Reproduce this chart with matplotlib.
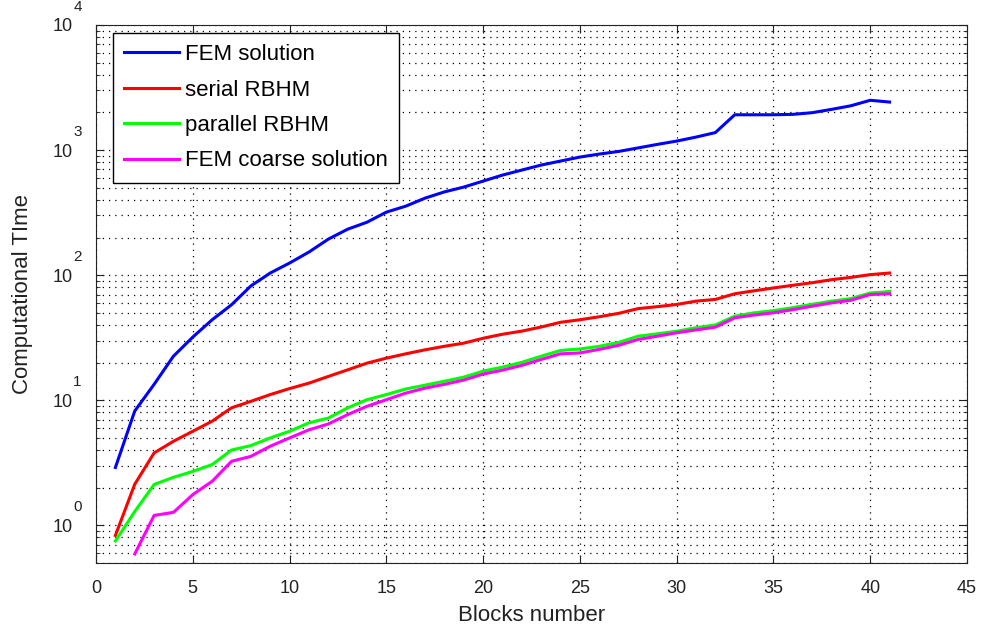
# Computational time vs number of blocks (log scale)
import numpy as np
import matplotlib.pyplot as plt
from matplotlib.ticker import LogLocator, NullFormatter, FixedLocator

plt.rcParams['font.family'] = ['Liberation Sans', 'DejaVu Sans']

# Data
blocks = list(range(1, 42))
fem_solution = [2.9, 8.2, 13.4, 22.5, 32, 44, 58, 82, 104, 125,
                153, 194, 233, 265, 319, 356, 413, 463, 506, 565,
                631, 692, 759, 817, 879, 929, 975, 1040, 1110, 1180,
                1270, 1380, 1915, 1915, 1915, 1930, 1990, 2115, 2260, 2500,
                2420]
serial_rbhm = [0.83, 2.13, 3.79, 4.7, 5.65, 6.8, 8.7, 9.8, 11.1, 12.4,
               13.7, 15.5, 17.5, 19.8, 21.7, 23.5, 25.3, 27, 28.6, 31.3,
               33.7, 35.7, 38.5, 42, 44, 46.5, 49.5, 54, 56, 58.3,
               62, 64, 71, 75, 79, 83, 87, 92, 96, 101,
               104]
parallel_rbhm = [0.75, 1.29, 2.12, 2.42, 2.7, 3.06, 4.0, 4.34, 5.0, 5.65,
                 6.6, 7.2, 8.7, 10.1, 11.1, 12.3, 13.2, 14.2, 15.3, 17.1,
                 18.4, 20.1, 22.5, 25, 25.7, 27, 29, 32.5, 34, 35.6,
                 38, 40, 47, 50, 52, 55, 58.5, 62, 65, 72,
                 74]
coarse_blocks = list(range(2, 42))
fem_coarse = [0.59, 1.2, 1.27, 1.76, 2.25, 3.25, 3.56, 4.29, 5.0,
              5.8, 6.46, 7.68, 8.95, 10.1, 11.4, 12.5, 13.4, 14.5, 16.2,
              17.4, 19, 21.2, 23.5, 23.9, 25.5, 27.5, 30.6, 32.5, 34.6,
              36.5, 38.4, 45.6, 48, 50, 53, 56.5, 60, 63, 70,
              71]
exponents = [0, 1, 2, 3, 4]

txt = "#222222"

fig = plt.figure(figsize=(9.84, 6.34), dpi=100)
ax = fig.add_axes([0.0976, 0.112, 0.8851, 0.8486])

ax.semilogy(blocks, fem_solution, color=(0, 0, 1), lw=2.2, label="FEM solution")
ax.semilogy(blocks, serial_rbhm, color=(1, 0, 0), lw=2.2, label="serial RBHM")
ax.semilogy(blocks, parallel_rbhm, color=(0, 1, 0), lw=2.2, label="parallel RBHM")
ax.semilogy(coarse_blocks, fem_coarse, color=(1, 0, 1), lw=2.2, label="FEM coarse solution")

ax.set_xlim(0, 45)
ax.set_ylim(0.5, 1e4)
ax.set_xticks(range(0, 46, 5))

# decade ticks, MATLAB style: "10" with the exponent drawn high above it
ax.yaxis.set_major_locator(FixedLocator([10.0 ** e for e in exponents]))
ax.set_yticklabels(["10"] * len(exponents))
for e in exponents:
    ax.annotate(str(e), xy=(0, 10.0 ** e), xycoords=("axes fraction", "data"),
                xytext=(-13.3, 13.0), textcoords="offset points",
                ha="center", va="center", fontsize=11, color=txt)
ax.yaxis.set_minor_locator(LogLocator(base=10, subs=np.arange(2, 10), numticks=20))
ax.yaxis.set_minor_formatter(NullFormatter())

dots = (0, (1, 4))
ax.grid(True, which="major", linestyle=dots, color="black", linewidth=0.9)
ax.grid(True, which="minor", axis="y", linestyle=dots, color="black", linewidth=0.9)

ax.tick_params(which="both", direction="in", top=True, right=True, labelsize=13, colors=txt)
ax.tick_params(axis="y", pad=17)
ax.tick_params(axis="x", pad=12)
ax.tick_params(which="major", length=6)
ax.tick_params(which="minor", length=3)
for s in ax.spines.values():
    s.set_color(txt)

ax.set_xlabel("Blocks number", fontsize=16, color=txt, labelpad=6)
ax.set_ylabel("Computational TIme", fontsize=16, color=txt, labelpad=14)

leg = ax.legend(loc="upper left", bbox_to_anchor=(0.0195, 0.985), fontsize=16,
                fancybox=False, framealpha=1, edgecolor="black",
                handlelength=2.45, handletextpad=0.3, borderpad=0.5,
                labelspacing=0.65, borderaxespad=0)
leg.get_frame().set_linewidth(1)

plt.savefig("out.png", dpi=100)
